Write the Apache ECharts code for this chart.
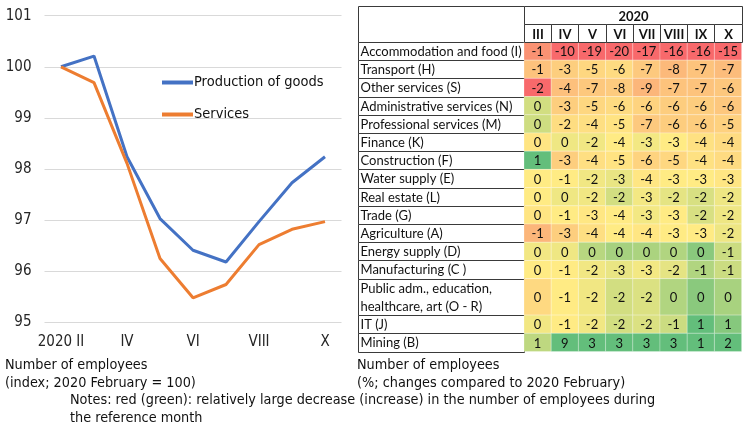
<!DOCTYPE html>
<html><head><meta charset="utf-8">
<script src="https://cdn.jsdelivr.net/npm/echarts@6/dist/echarts.min.js"></script>
<style>html,body{margin:0;padding:0;background:#fff}#c{width:750px;height:428px}</style>
</head><body><div id="c"></div>
<script>
// ---- line chart data ----
const months = ['2020 II','III','IV','V','VI','VII','VIII','IX','X'];
const goods = [100, 100.21, 98.24, 97.03, 96.41, 96.18, 96.97, 97.73, 98.24];
const services = [100, 99.69, 98.11, 96.25, 95.48, 95.74, 96.52, 96.82, 96.97];

// ---- table data (changes in %, compared to 2020 February) ----
const tableYear = '2020';
const tableMonths = ['III','IV','V','VI','VII','VIII','IX','X'];
const sectors = [
  'Accommodation and food (I)','Transport (H)','Other services (S)','Administrative services (N)',
  'Professional services (M)','Finance (K)','Construction (F)','Water supply (E)','Real estate (L)',
  'Trade (G)','Agriculture (A)','Energy supply (D)','Manufacturing (C )',
  'Public adm., education,\nhealthcare, art (O - R)','IT (J)','Mining (B)'
];
const chgIII  = [-1.4, -0.6, -2.1, 0.45, 0.48, 0, 1.3, 0.1, 0.1, 0, -0.8, 0.2, 0.1, -0.2, 0.2, 0.6];
const chgIV   = [-10, -3, -4, -3, -2, 0, -3, -1, 0, -1, -3, 0, -1, -1, -1, 9];
const chgV    = [-19, -5, -7, -5, -4, -2, -4, -2, -2, -3, -4, 0, -2, -2, -2, 3];
const chgVI   = [-20, -6, -8, -6, -5, -4, -5, -3, -2, -4, -4, 0, -3, -2, -2, 3];
const chgVII  = [-17, -7, -9, -6, -7, -3, -6, -4, -3, -3, -4, 0, -3, -2, -2, 3];
const chgVIII = [-16, -8, -7, -6, -6, -3, -5, -3, -2, -3, -3, 0, -2, 0, -1, 3];
const chgIX   = [-16, -7, -7, -6, -6, -4, -4, -3, -2, -2, -3, 0, -1, 0, 1, 1];
const chgX    = [-15, -7, -6, -6, -5, -4, -4, -3, -2, -2, -2, -1, -1, 0, 1, 2];
const changes = [chgIII, chgIV, chgV, chgVI, chgVII, chgVIII, chgIX, chgX];

// ---- layout helpers ----
const LF = "'DejaVu Sans Condensed','Liberation Sans',sans-serif";
const TF = "Lato,'Liberation Sans',sans-serif";
const BORDER = '#3a3a3a';

// row spans (2 lines label -> double height)
const rowStart = []; let acc = 0;
sectors.forEach(s => { const span = s.includes('\n') ? 2 : 1; rowStart.push([acc, acc + span]); acc += span; });
const totalRows = acc; // 17

// Excel-like 3-colour scale per column: min red, median yellow, max green
const RED = [248,105,107], YEL = [255,235,132], GRN = [99,190,123];
function lerp(a,b,t){ return a.map((x,i)=>Math.round(x+(b[i]-x)*t)); }
function colStats(arr){
  const s = arr.slice().sort((a,b)=>a-b); const n = s.length;
  const pos = (n-1)*0.5, lo = Math.floor(pos), hi = Math.ceil(pos);
  return {min:s[0], max:s[n-1], mid: s[lo] + (s[hi]-s[lo])*(pos-lo)};
}
const stats = changes.map(colStats);
function cellColor(c, v){
  const st = stats[c]; let rgb;
  if (v <= st.mid) rgb = lerp(RED, YEL, st.mid===st.min?1:(v-st.min)/(st.mid-st.min));
  else rgb = lerp(YEL, GRN, (v-st.mid)/(st.max-st.mid));
  return 'rgb(' + rgb.join(',') + ')';
}

const cellData = [];
changes.forEach((col, c) => col.forEach((v, r) => cellData.push([c, rowStart[r][0], rowStart[r][1], v])));
const labelData = sectors.map((s, r) => [rowStart[r][0], rowStart[r][1], s]);
labelData.unshift([-2, 0, '']);
const headData = [[0, tableMonths.length-1, -2, -1, tableYear]];
tableMonths.forEach((m, i) => headData.push([i, i, -1, 0, m]));

const chart = echarts.init(document.getElementById('c'));
chart.setOption({
  animation: false,
  backgroundColor: '#fff',
  grid: [
    {left: 44.5, width: 297, top: 15.7, bottom: 105.7, outerBoundsMode: 'none', containLabel: false},
    {left: 357.5, width: 166.5, top: 5.5, height: 346, outerBoundsMode: 'none', containLabel: false},
    {left: 524, width: 217.6, top: 5.5, height: 346, outerBoundsMode: 'none', containLabel: false}
  ],
  xAxis: [
    {gridIndex: 0, type: 'category', data: months, boundaryGap: true,
     axisLine: {show: false}, axisTick: {show: false},
     axisLabel: {interval: 1, fontSize: 15, color: '#262626', fontFamily: LF, margin: 12}},
    {gridIndex: 1, type: 'value', min: 0, max: 1, show: false},
    {gridIndex: 2, type: 'category', data: tableMonths, show: false}
  ],
  yAxis: [
    {gridIndex: 0, type: 'value', min: 95, max: 101, interval: 1,
     axisLine: {show: false}, axisTick: {show: false},
     splitLine: {lineStyle: {color: '#d9d9d9', width: 1}},
     axisLabel: {fontSize: 15, color: '#262626', fontFamily: LF, margin: 13}},
    {gridIndex: 1, type: 'value', min: -2, max: totalRows, inverse: true, show: false},
    {gridIndex: 2, type: 'value', min: -2, max: totalRows, inverse: true, show: false}
  ],
  legend: {
    orient: 'vertical', left: 157, top: 70, itemGap: 17, itemWidth: 31, itemHeight: 4, icon: 'rect',
    textStyle: {fontSize: 14.5, color: '#111', fontFamily: LF, padding: [0,0,0,-4]},
    data: ['Production of goods', 'Services']
  },
  graphic: [
    {type: 'text', left: 5, top: 357, style: {text: 'Number of employees\n(index; 2020 February = 100)', font: '14.3px ' + LF, lineHeight: 17.5, fill: '#111'}},
    {type: 'text', left: 357, top: 357, style: {text: 'Number of employees\n(%; changes compared to 2020 February)', font: '14.3px ' + LF, lineHeight: 17.5, fill: '#111'}},
    {type: 'text', left: 70, top: 392, style: {text: 'Notes: red (green): relatively large decrease (increase) in the number of employees during\nthe reference month', font: '14.3px ' + LF, lineHeight: 17.5, fill: '#111'}}
  ],
  series: [
    {name: 'Production of goods', type: 'line', xAxisIndex: 0, yAxisIndex: 0, data: goods,
     showSymbol: false, symbol: 'none', lineStyle: {width: 3, color: '#4472C4'}, itemStyle: {color: '#4472C4'}},
    {name: 'Services', type: 'line', xAxisIndex: 0, yAxisIndex: 0, data: services,
     showSymbol: false, symbol: 'none', lineStyle: {width: 3, color: '#ED7D31'}, itemStyle: {color: '#ED7D31'}},
    {type: 'custom', xAxisIndex: 1, yAxisIndex: 1, data: labelData, silent: true,
     renderItem(params, api) {
       const p0 = api.coord([0, api.value(0)]), p1 = api.coord([1, api.value(1)]);
       const x = Math.round(p0[0]) + 0.5, y = Math.round(p0[1]) + 0.5;
       const w = Math.round(p1[0]) - Math.round(p0[0]), h = Math.round(p1[1]) - Math.round(p0[1]);
       return {type: 'group', children: [
         {type: 'rect', shape: {x, y, width: w, height: h}, style: {fill: '#fff', stroke: BORDER, lineWidth: 1}},
         {type: 'text', x: x + 2, y: y + h/2, style: {text: labelData[params.dataIndex][2], font: '13px ' + TF, fill: '#111', verticalAlign: 'middle', align: 'left', lineHeight: 18}}
       ]};
     }},
    {type: 'custom', xAxisIndex: 2, yAxisIndex: 2, data: cellData, silent: true,
     renderItem(params, api) {
       const c = api.value(0), v = api.value(3);
       const w = api.size([1, 0])[0];
       const p0 = api.coord([c, api.value(1)]), p1 = api.coord([c, api.value(2)]);
       const x = p0[0] - w/2, y = p0[1], h = p1[1] - p0[1];
       return {type: 'group', children: [
         {type: 'rect', shape: {x, y, width: w, height: h}, style: {fill: cellColor(c, v), stroke: 'rgba(255,255,255,0.25)', lineWidth: 1}},
         {type: 'text', x: x + w/2, y: y + h/2 + 1, style: {text: `${Math.round(v)}`, font: '13px ' + TF, fill: '#111', align: 'center', verticalAlign: 'middle'}}
       ]};
     }},
    {type: 'custom', xAxisIndex: 2, yAxisIndex: 2, data: headData, silent: true,
     renderItem(params, api) {
       const w = api.size([1, 0])[0];
       const a = api.coord([api.value(0), api.value(2)]), b = api.coord([api.value(1), api.value(3)]);
       const x = Math.round(a[0] - w/2) + 0.5, y = Math.round(a[1]) + 0.5;
       const ww = Math.round(b[0] + w/2) - Math.round(a[0] - w/2), h = Math.round(b[1]) - Math.round(a[1]);
       return {type: 'group', children: [
         {type: 'rect', shape: {x, y, width: ww, height: h}, style: {fill: '#fff', stroke: BORDER, lineWidth: 1}},
         {type: 'text', x: x + ww/2, y: y + h/2 + 1, style: {text: headData[params.dataIndex][4], font: 'bold 13px ' + TF, fill: '#111', align: 'center', verticalAlign: 'middle'}}
       ]};
     }}
  ]
});
</script></body></html>
